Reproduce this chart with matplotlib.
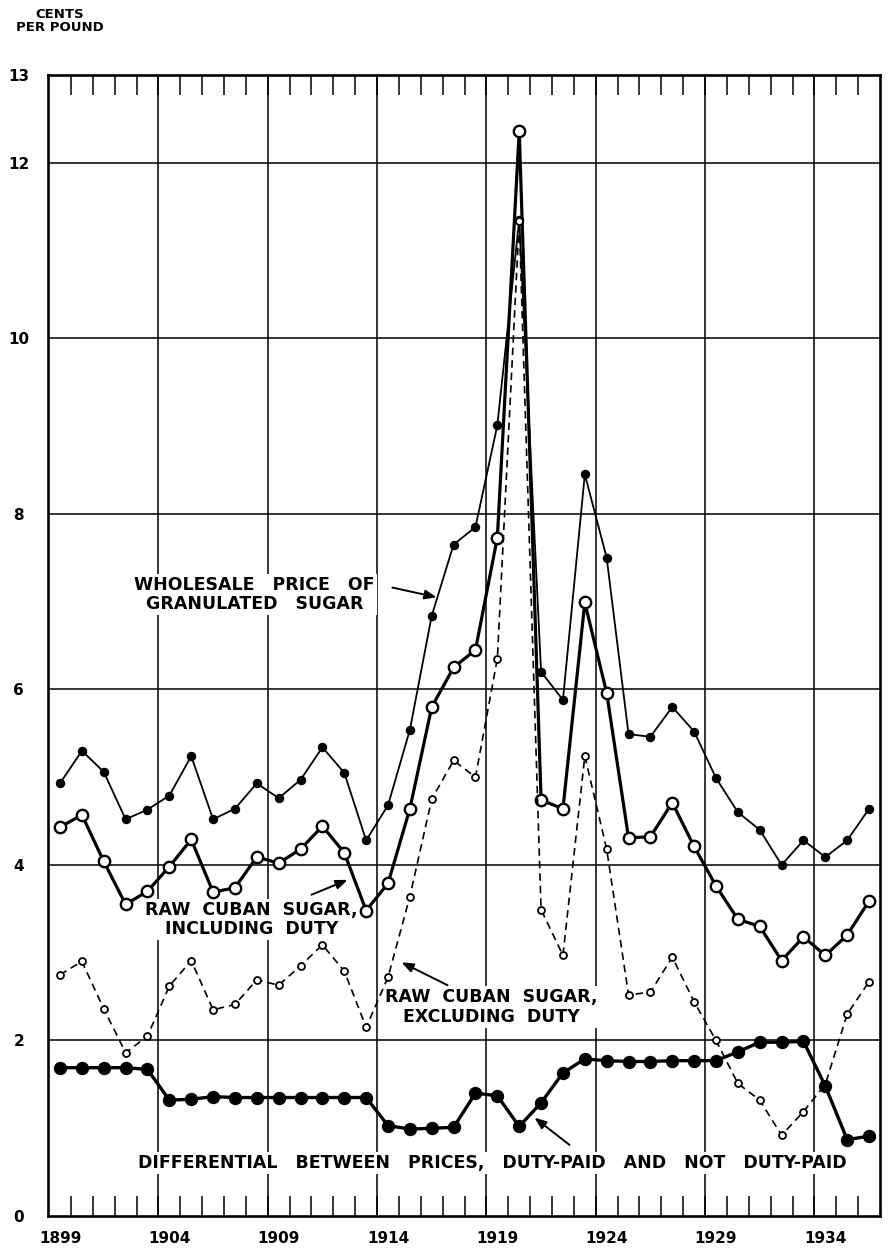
import matplotlib
matplotlib.use("Agg")
import matplotlib.pyplot as plt
from matplotlib.ticker import FixedLocator

years = list(range(1899, 1937))

granulated = [4.93, 5.30, 5.06, 4.52, 4.63, 4.79, 5.24, 4.52, 4.64, 4.93,
              4.76, 4.97, 5.34, 5.05, 4.28, 4.68, 5.54, 6.84, 7.65, 7.85,
              9.01, 11.35, 6.20, 5.88, 8.45, 7.50, 5.49, 5.46, 5.80, 5.52,
              4.99, 4.60, 4.40, 4.00, 4.28, 4.09, 4.28, 4.64]

incl_duty = [4.43, 4.57, 4.04, 3.55, 3.70, 3.98, 4.29, 3.69, 3.74, 4.09,
             4.02, 4.18, 4.44, 4.14, 3.48, 3.79, 4.64, 5.80, 6.25, 6.45,
             7.73, 12.36, 4.74, 4.64, 6.99, 5.96, 4.31, 4.32, 4.71, 4.21,
             3.76, 3.38, 3.30, 2.91, 3.18, 2.97, 3.20, 3.59]

excl_duty = [2.75, 2.90, 2.36, 1.86, 2.05, 2.62, 2.91, 2.35, 2.41, 2.69,
             2.63, 2.85, 3.09, 2.79, 2.15, 2.72, 3.64, 4.75, 5.19, 5.00,
             6.35, 11.34, 3.49, 2.97, 5.24, 4.18, 2.52, 2.55, 2.95, 2.44,
             2.00, 1.51, 1.32, 0.92, 1.19, 1.50, 2.30, 2.67]

differential = [1.69, 1.69, 1.69, 1.69, 1.67, 1.32, 1.33, 1.36, 1.35, 1.35,
                1.35, 1.35, 1.35, 1.35, 1.35, 1.03, 0.99, 1.00, 1.01, 1.40,
                1.37, 1.02, 1.29, 1.63, 1.79, 1.77, 1.76, 1.76, 1.77, 1.77,
                1.77, 1.87, 1.98, 1.98, 1.99, 1.48, 0.87, 0.91]

year_labels = [1899, 1904, 1909, 1914, 1919, 1924, 1929, 1934]
y_ticks = [0, 2, 4, 6, 8, 10, 12, 13]

W, H = 888, 1251
fig = plt.figure(figsize=(W / 100, H / 100), dpi=100)
ax = fig.add_axes([48 / W, 35 / H, 832 / W, 1141 / H])
ax.set_xlim(1898.45, 1936.5)
ax.set_ylim(0, 13)

# grid
for v in y_ticks[1:-1]:
    ax.axhline(v, color="black", lw=1.1, zorder=1)
for yl in year_labels[1:]:
    ax.axvline(yl - 0.5, color="black", lw=1.1, zorder=1)

for s in ax.spines.values():
    s.set_linewidth(1.9)
    s.set_zorder(5)

# ticks
ax.xaxis.set_major_locator(FixedLocator(year_labels))
ax.set_xticklabels([str(y) for y in year_labels], fontsize=11, fontweight="bold")
ax.xaxis.set_minor_locator(FixedLocator([y - 0.5 for y in years[1:]]))
ax.tick_params(axis="x", which="minor", direction="in", length=14.5, width=1.1,
               top=True, bottom=True)
ax.tick_params(axis="x", which="major", length=0, pad=11)
ax.set_yticks(y_ticks)
ax.set_yticklabels([str(v) for v in y_ticks], fontsize=11, fontweight="bold")
ax.tick_params(axis="y", length=0, pad=21)
for lbl in ax.get_yticklabels():
    lbl.set_horizontalalignment("center")

# series
ax.plot(years, granulated, color="black", lw=1.3, marker="o", ms=5.8,
        mfc="black", mec="black", zorder=4)
ax.plot(years, incl_duty, color="black", lw=2.3, marker="o", ms=8.2,
        mfc="white", mec="black", mew=1.7, zorder=4)
ax.plot(years, excl_duty, color="black", lw=1.2, ls=(0, (4.5, 3)), marker="o",
        ms=5.0, mfc="white", mec="black", mew=1.3, zorder=4)
ax.plot(years, differential, color="black", lw=2.4, marker="o", ms=8.6,
        mfc="black", mec="black", zorder=4)

# annotations
tkw = dict(fontsize=12.5, fontweight="bold", ha="center", va="center",
           linespacing=1.1, zorder=2,
           bbox=dict(facecolor="white", edgecolor="none", pad=1.5))
akw = dict(arrowstyle="-|>,head_length=0.7,head_width=0.28", lw=1.4,
           color="black", shrinkA=0, shrinkB=0)

ax.text(1907.9, 7.08, "WHOLESALE   PRICE   OF\nGRANULATED   SUGAR", **tkw)
ax.annotate("", xy=(1916.22, 7.05), xytext=(1914.2, 7.16), arrowprops=akw, zorder=6)

ax.text(1907.75, 3.38, "RAW  CUBAN  SUGAR,\nINCLUDING  DUTY", **tkw)
ax.annotate("", xy=(1912.15, 3.83), xytext=(1910.5, 3.66), arrowprops=akw, zorder=6)

ax.text(1918.74, 2.38, "RAW  CUBAN  SUGAR,\nEXCLUDING  DUTY", **tkw)
ax.annotate("", xy=(1914.62, 2.89), xytext=(1916.72, 2.63), arrowprops=akw, zorder=6)

ax.text(1918.78, 0.6,
        "DIFFERENTIAL   BETWEEN   PRICES,   DUTY-PAID   AND   NOT   DUTY-PAID", **tkw)
ax.annotate("", xy=(1920.7, 1.12), xytext=(1922.3, 0.81), arrowprops=akw, zorder=6)

fig.text(60 / W, 1 - 21 / H, "CENTS\nPER POUND", fontsize=9.5, fontweight="bold",
         ha="center", va="center", linespacing=1.05)

fig.savefig("out.png", dpi=100)
